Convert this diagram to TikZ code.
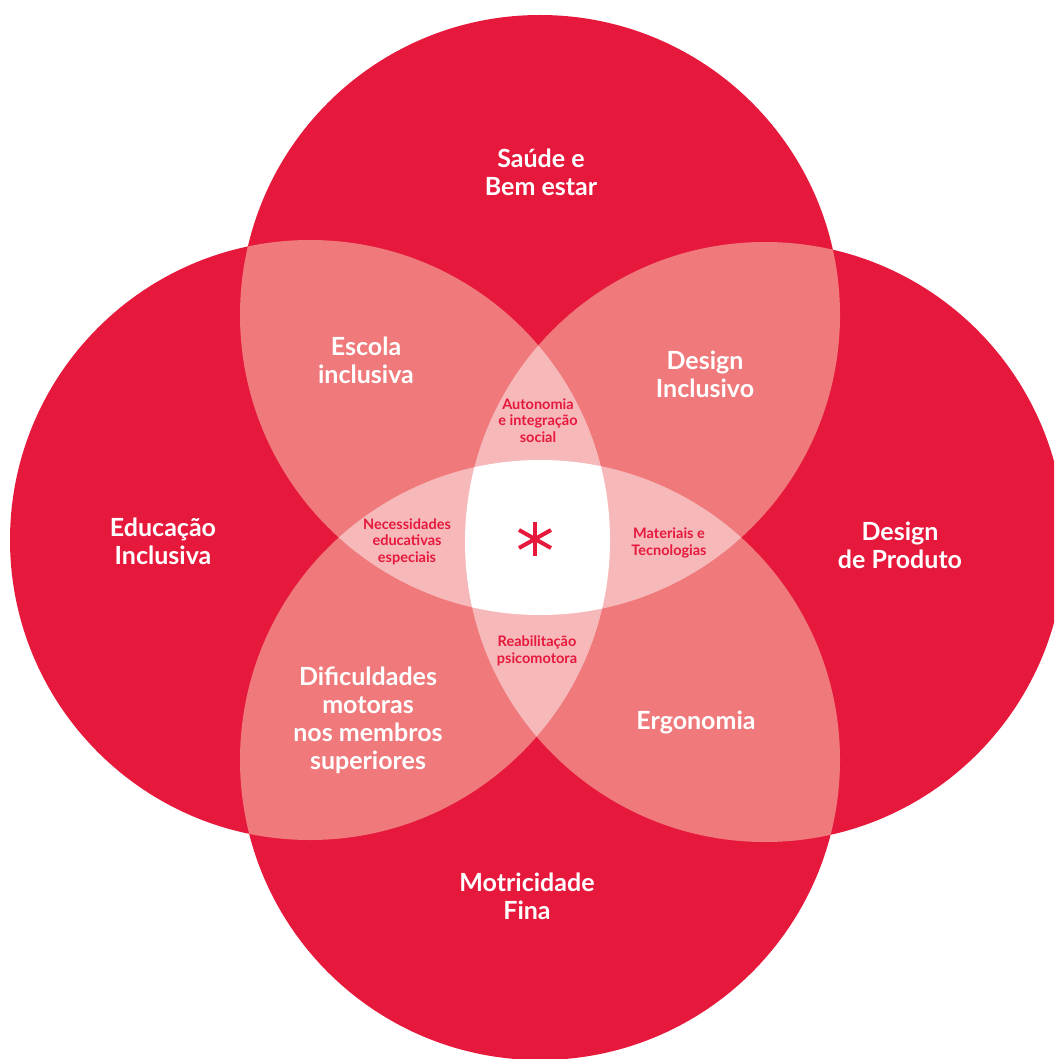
\documentclass[tikz,border=0pt]{standalone}
\usepackage{fontspec}
\setmainfont{Lato}
\usetikzlibrary{calc}
\definecolor{vred}{RGB}{230,25,60}
\definecolor{vpair}{RGB}{239,121,123}
\definecolor{vtrip}{RGB}{247,184,186}
\begin{document}
\begin{tikzpicture}[x=1pt,y=-1pt,
  big/.style={text=white,align=center,font=\fontsize{25}{28}\selectfont\bfseries},
  small/.style={text=vred,align=center,font=\fontsize{14.5}{16.5}\selectfont\bfseries},
  spoke/.style={draw=vred,line width=4pt}]
\useasboundingbox (0,0) rectangle (1054,1059);
\clip (0,0) rectangle (1054,1059);
\coordinate (T) at (540,315);
\coordinate (L) at (310,540);
\coordinate (R) at (765,542);
\coordinate (B) at (540,760);
\def\rr{300pt}
% single circles
\foreach \c in {T,L,R,B} \fill[vred] (\c) circle[radius=\rr];
% pairs
\begin{scope}\clip (T) circle[radius=\rr];
  \fill[vpair] (L) circle[radius=\rr]; \fill[vpair] (R) circle[radius=\rr]; \fill[vpair] (B) circle[radius=\rr];
\end{scope}
\begin{scope}\clip (L) circle[radius=\rr];
  \fill[vpair] (R) circle[radius=\rr]; \fill[vpair] (B) circle[radius=\rr];
\end{scope}
\begin{scope}\clip (R) circle[radius=\rr];
  \fill[vpair] (B) circle[radius=\rr];
\end{scope}
% triples
\begin{scope}\clip (T) circle[radius=\rr]; \clip (L) circle[radius=\rr];
  \fill[vtrip] (R) circle[radius=\rr]; \fill[vtrip] (B) circle[radius=\rr];
\end{scope}
\begin{scope}\clip (T) circle[radius=\rr]; \clip (R) circle[radius=\rr];
  \fill[vtrip] (B) circle[radius=\rr];
\end{scope}
\begin{scope}\clip (L) circle[radius=\rr]; \clip (R) circle[radius=\rr];
  \fill[vtrip] (B) circle[radius=\rr];
\end{scope}
% quadruple
\begin{scope}\clip (T) circle[radius=\rr]; \clip (L) circle[radius=\rr]; \clip (R) circle[radius=\rr];
  \fill[white] (B) circle[radius=\rr];
\end{scope}
% labels
\node[big] (saude) at (541,172) {Saúde e\\Bem estar};
\node[big] (escola) at (366,360) {Escola\\inclusiva};
\node[big] (dincl) at (705,374) {Design\\Inclusivo};
\node[big] (educ) at (163,541) {Educação\\Inclusiva};
\node[big] (dprod) at (900,545) {Design\\de Produto};
\node[big] (dific) at (368,720) {Dificuldades\\motoras\\nos membros\\superiores};
\node[big] (ergo) at (696,722) {Ergonomia};
\node[big] (motr) at (527,896) {Motricidade\\Fina};
\node[small] (auto) at (538,420.5) {Autonomia\\e integração\\social};
\node[small] (neces) at (407,541.5) {Necessidades\\educativas\\especiais};
\node[small] (mater) at (669,543) {Materiais e\\Tecnologias};
\node[small] (reab) at (537,651) {Reabilitação\\psicomotora};
% asterisk
\coordinate (ast) at (535,539);
\draw[spoke] ($(ast)+(0,-17)$) -- ($(ast)+(0,17)$);
\draw[spoke] ($(ast)+(-16,-9)$) -- ($(ast)+(16,9)$);
\draw[spoke] ($(ast)+(-16,9)$) -- ($(ast)+(16,-9)$);
\end{tikzpicture}
\end{document}
